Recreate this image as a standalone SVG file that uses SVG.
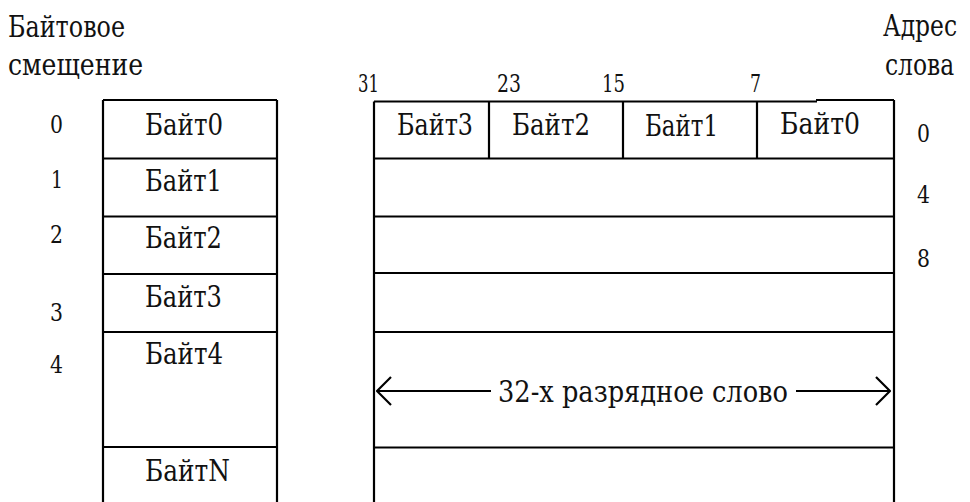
<svg xmlns="http://www.w3.org/2000/svg" width="970" height="502" viewBox="0 0 970 502">
  <style>
    text { font-family: "DejaVu Serif", "Liberation Serif", serif; fill: #111; }
    .title { font-size: 30px; }
    .cell { font-size: 29px; }
    .num { font-size: 24px; }
    .ln { stroke: #000; stroke-width: 2.2; fill: none; }
    .arr { stroke: #000; stroke-width: 2.2; fill: none; stroke-linecap: butt; }
  </style>
  <defs>
    <marker id="chev" viewBox="0 0 16 30" refX="15" refY="15" markerWidth="16" markerHeight="30" markerUnits="userSpaceOnUse" orient="auto-start-reverse">
      <path d="M1,1 L15,15 L1,29" stroke="#000" stroke-width="2.2" fill="none"/>
    </marker>
  </defs>
  <rect width="970" height="502" fill="#fff"/>

  <!-- headings -->
  <g id="heading-offset">
    <text class="title" x="8" y="37" textLength="117" lengthAdjust="spacingAndGlyphs">Байтовое</text>
    <text class="title" x="8" y="75" textLength="135" lengthAdjust="spacingAndGlyphs">смещение</text>
  </g>
  <!-- right heading narrowed with a horizontal scale so it stays inside the page -->
  <g id="heading-address">
    <text class="title" transform="translate(883,36) scale(0.78,1)">Адрес</text>
    <text class="title" transform="translate(885,75) scale(0.78,1)">слова</text>
  </g>

  <!-- byte-addressed memory column -->
  <g id="byte-memory">
    <path class="ln" d="M103,100 H277 M103,100 V502 M277,100 V502 M103,158.5 H277 M103,216.5 H277 M103,274 H277 M103,332 H277 M103,447 H277"/>
    <text class="cell" x="145" y="135" textLength="78" lengthAdjust="spacingAndGlyphs">Байт0</text>
    <text class="cell" x="145" y="191" textLength="77" lengthAdjust="spacingAndGlyphs">Байт1</text>
    <text class="cell" x="145" y="248" textLength="77" lengthAdjust="spacingAndGlyphs">Байт2</text>
    <text class="cell" x="145" y="307" textLength="77" lengthAdjust="spacingAndGlyphs">Байт3</text>
    <text class="cell" x="145" y="364" textLength="78" lengthAdjust="spacingAndGlyphs">Байт4</text>
    <text class="cell" x="145" y="481" textLength="85" lengthAdjust="spacingAndGlyphs">БайтN</text>
  </g>
  <g id="byte-offsets">
    <text class="num" x="50" y="133" textLength="13" lengthAdjust="spacingAndGlyphs">0</text>
    <text class="num" x="51" y="188" textLength="12" lengthAdjust="spacingAndGlyphs">1</text>
    <text class="num" x="50" y="243" textLength="13" lengthAdjust="spacingAndGlyphs">2</text>
    <text class="num" x="50" y="321" textLength="13" lengthAdjust="spacingAndGlyphs">3</text>
    <text class="num" x="50" y="373" textLength="13" lengthAdjust="spacingAndGlyphs">4</text>
  </g>

  <!-- word-addressed memory column -->
  <g id="word-memory">
    <path class="ln" d="M374,101.5 H817 M816,100 H894 M374,101.5 V502 M894,100 V502 M374,158.5 H894 M374,216.5 H894 M374,273 H894 M374,332 H894 M374,447.5 H894 M489,101.5 V158.5 M623,101.5 V158.5 M757,101.5 V158.5"/>
    <text class="cell" x="397" y="135" textLength="76" lengthAdjust="spacingAndGlyphs">Байт3</text>
    <text class="cell" x="512" y="135" textLength="78" lengthAdjust="spacingAndGlyphs">Байт2</text>
    <text class="cell" x="645" y="136" textLength="73" lengthAdjust="spacingAndGlyphs">Байт1</text>
    <text class="cell" x="780" y="134" textLength="80" lengthAdjust="spacingAndGlyphs">Байт0</text>
  </g>
  <g id="bit-numbers">
    <text class="num" x="358" y="92" textLength="21" lengthAdjust="spacingAndGlyphs">31</text>
    <text class="num" x="497" y="92" textLength="24" lengthAdjust="spacingAndGlyphs">23</text>
    <text class="num" x="602" y="92" textLength="23" lengthAdjust="spacingAndGlyphs">15</text>
    <text class="num" x="750" y="92" textLength="11" lengthAdjust="spacingAndGlyphs">7</text>
  </g>
  <g id="word-addresses">
    <text class="num" x="917" y="142" textLength="13" lengthAdjust="spacingAndGlyphs">0</text>
    <text class="num" x="917" y="203" textLength="13" lengthAdjust="spacingAndGlyphs">4</text>
    <text class="num" x="917" y="267" textLength="13" lengthAdjust="spacingAndGlyphs">8</text>
  </g>

  <!-- word width dimension -->
  <g id="connectors">
    <line class="arr" x1="377" y1="391" x2="491" y2="391" marker-start="url(#chev)"/>
    <line class="arr" x1="796" y1="391" x2="890" y2="391" marker-end="url(#chev)"/>
  </g>
  <g id="word-width-label">
    <text class="cell" x="498" y="402" textLength="290" lengthAdjust="spacingAndGlyphs">32-х разрядное слово</text>
  </g>
</svg>
